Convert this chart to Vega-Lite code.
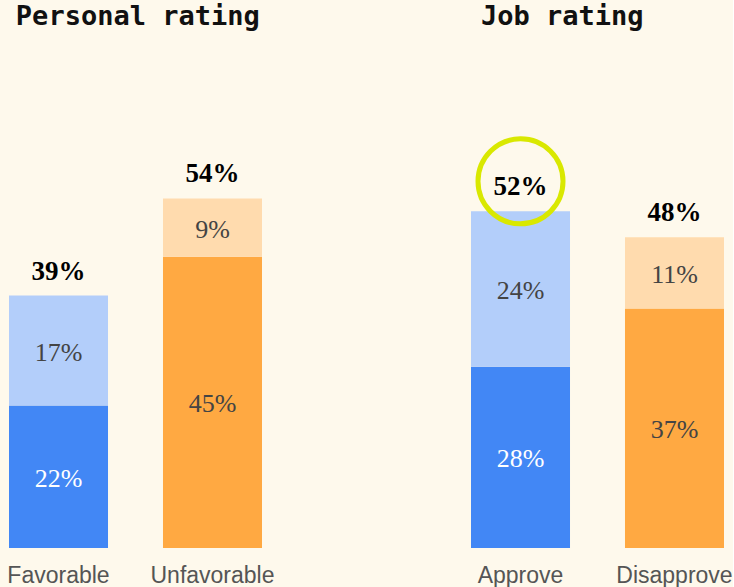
{
  "$schema": "https://vega.github.io/schema/vega-lite/v6.json",
  "background": "#FEF9EC",
  "padding": {"left": 6, "top": 3, "right": 0, "bottom": 0},
  "spacing": 209,
  "bounds": "flush",
  "resolve": {"scale": {"y": "shared", "color": "shared"}},
  "data": {"values": [
    {"group": "Personal rating", "category": "Favorable", "shade": "Positive strong", "level": 1, "value": 0.22},
    {"group": "Personal rating", "category": "Favorable", "shade": "Positive lean", "level": 2, "value": 0.17},
    {"group": "Personal rating", "category": "Unfavorable", "shade": "Negative strong", "level": 1, "value": 0.45},
    {"group": "Personal rating", "category": "Unfavorable", "shade": "Negative lean", "level": 2, "value": 0.09},
    {"group": "Job rating", "category": "Approve", "shade": "Positive strong", "level": 1, "value": 0.28},
    {"group": "Job rating", "category": "Approve", "shade": "Positive lean", "level": 2, "value": 0.24},
    {"group": "Job rating", "category": "Disapprove", "shade": "Negative strong", "level": 1, "value": 0.37},
    {"group": "Job rating", "category": "Disapprove", "shade": "Negative lean", "level": 2, "value": 0.11}
  ]},
  "hconcat": [
    {
      "width": 253,
      "height": 505,
      "title": {"text": "Personal rating", "anchor": "start", "dx": 9, "offset": 12},
      "transform": [{"filter": "datum.group == 'Personal rating'"}],
      "encoding": {
        "x": {"field": "category", "type": "nominal", "sort": null, "title": null,
              "scale": {"paddingInner": 0.357, "paddingOuter": 0}}
      },
      "layer": [
        {
          "mark": {"type": "bar"},
          "encoding": {
            "y": {"field": "value", "type": "quantitative", "stack": "zero", "scale": {"domain": [0, 0.78]}, "axis": null},
            "color": {"field": "shade", "type": "nominal", "legend": null,
                      "scale": {"domain": ["Positive strong", "Positive lean", "Negative strong", "Negative lean"],
                                "range": ["#4287F5", "#B3CEFA", "#FFA942", "#FFDBAE"]}},
            "order": {"field": "level", "type": "quantitative"}
          }
        },
        {
          "transform": [{"stack": "value", "groupby": ["category"], "sort": [{"field": "level"}], "as": ["v0", "v1"]}],
          "mark": {"type": "text", "font": "Liberation Serif", "fontSize": 26, "baseline": "middle",
                   "dy": {"expr": "(scale('y', datum.v0) - scale('y', datum.v1)) / 2 + 2"}},
          "encoding": {
            "y": {"field": "v1", "type": "quantitative", "scale": {"domain": [0, 0.78]}, "axis": null},
            "text": {"field": "value", "type": "quantitative", "format": ".0%"},
            "color": {"condition": {"test": "datum.shade == 'Positive strong'", "value": "#FFFFFF"}, "value": "#444444"}
          }
        },
        {
          "transform": [{"aggregate": [{"op": "sum", "field": "value", "as": "total"}], "groupby": ["category"]}],
          "mark": {"type": "text", "font": "Liberation Serif", "fontSize": 27, "fontWeight": "bold", "baseline": "middle", "dy": -24, "color": "#000000"},
          "encoding": {
            "y": {"field": "total", "type": "quantitative", "scale": {"domain": [0, 0.78]}, "axis": null},
            "text": {"field": "total", "type": "quantitative", "format": ".0%"}
          }
        }
      ]
    },
    {
      "width": 253,
      "height": 505,
      "title": {"text": "Job rating", "anchor": "start", "dx": 13, "offset": 12},
      "transform": [{"filter": "datum.group == 'Job rating'"}],
      "encoding": {
        "x": {"field": "category", "type": "nominal", "sort": null, "title": null,
              "scale": {"paddingInner": 0.357, "paddingOuter": 0}}
      },
      "layer": [
        {
          "mark": {"type": "bar"},
          "encoding": {
            "y": {"field": "value", "type": "quantitative", "stack": "zero", "scale": {"domain": [0, 0.78]}, "axis": null},
            "color": {"field": "shade", "type": "nominal", "legend": null,
                      "scale": {"domain": ["Positive strong", "Positive lean", "Negative strong", "Negative lean"],
                                "range": ["#4287F5", "#B3CEFA", "#FFA942", "#FFDBAE"]}},
            "order": {"field": "level", "type": "quantitative"}
          }
        },
        {
          "transform": [{"stack": "value", "groupby": ["category"], "sort": [{"field": "level"}], "as": ["v0", "v1"]}],
          "mark": {"type": "text", "font": "Liberation Serif", "fontSize": 26, "baseline": "middle",
                   "dy": {"expr": "(scale('y', datum.v0) - scale('y', datum.v1)) / 2 + 2"}},
          "encoding": {
            "y": {"field": "v1", "type": "quantitative", "scale": {"domain": [0, 0.78]}, "axis": null},
            "text": {"field": "value", "type": "quantitative", "format": ".0%"},
            "color": {"condition": {"test": "datum.shade == 'Positive strong'", "value": "#FFFFFF"}, "value": "#444444"}
          }
        },
        {
          "transform": [
            {"filter": "datum.category == 'Approve'"},
            {"aggregate": [{"op": "sum", "field": "value", "as": "total"}], "groupby": ["category"]}
          ],
          "mark": {"type": "point", "shape": "circle", "size": 7225, "filled": false, "color": "#D9E800", "strokeWidth": 5, "opacity": 1, "yOffset": -30},
          "encoding": {
            "y": {"field": "total", "type": "quantitative", "scale": {"domain": [0, 0.78]}, "axis": null}
          }
        },
        {
          "transform": [{"aggregate": [{"op": "sum", "field": "value", "as": "total"}], "groupby": ["category"]}],
          "mark": {"type": "text", "font": "Liberation Serif", "fontSize": 27, "fontWeight": "bold", "baseline": "middle", "dy": -24, "color": "#000000"},
          "encoding": {
            "y": {"field": "total", "type": "quantitative", "scale": {"domain": [0, 0.78]}, "axis": null},
            "text": {"field": "total", "type": "quantitative", "format": ".0%"}
          }
        }
      ]
    }
  ],
  "config": {
    "view": {"stroke": null},
    "title": {"font": "DejaVu Sans Mono", "fontSize": 27, "fontWeight": "bold", "color": "#111111"},
    "axisX": {"labelAngle": 0, "labelFont": "Liberation Sans", "labelFontSize": 23, "labelColor": "#555555",
              "ticks": false, "domain": false, "labelPadding": 16, "grid": false}
  }
}
